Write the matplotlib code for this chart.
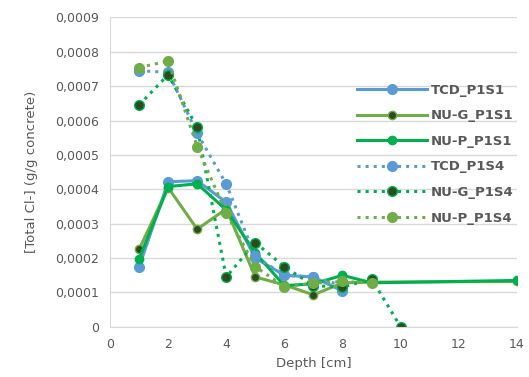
import numpy as np
import matplotlib.pyplot as plt
from matplotlib.ticker import FuncFormatter

# Dane
depth_tcd_s1 = [1, 2, 3, 4, 5, 6, 7, 8]
tcd_s1 = [0.000174, 0.000422, 0.000425, 0.000362, 0.000200, 0.000150, 0.000145, 0.000104]

depth_nug_s1 = [1, 2, 3, 4, 5, 6, 7, 8, 9, 14]
nug_s1 = [0.000225, 0.000405, 0.000284, 0.000343, 0.000145, 0.000122, 0.000093, 0.000128, 0.000130, 0.000132]

depth_nup_s1 = [1, 2, 3, 4, 5, 6, 7, 8, 9, 14]
nup_s1 = [0.000197, 0.000408, 0.000416, 0.000340, 0.000215, 0.000120, 0.000125, 0.000150, 0.000128, 0.000135]

depth_tcd_s4 = [1, 2, 3, 4, 5, 6, 7, 8]
tcd_s4 = [0.000745, 0.000740, 0.000563, 0.000415, 0.000205, 0.000150, 0.000145, 0.000120]

depth_nug_s4 = [1, 2, 3, 4, 5, 6, 7, 8, 9, 10]
nug_s4 = [0.000645, 0.000733, 0.000580, 0.000145, 0.000245, 0.000175, 0.000120, 0.000115, 0.000140, 0.0]

depth_nup_s4 = [1, 2, 3, 4, 5, 6, 7, 8, 9]
nup_s4 = [0.000754, 0.000773, 0.000524, 0.000330, 0.000175, 0.000117, 0.000127, 0.000132, 0.000128]

blue = '#5B9BD5'
olive = '#70AD47'
green = '#00B050'
dark = '#2E4A1F'
grey = '#595959'

fig = plt.figure(figsize=(5.29, 3.77), dpi=100)
ax = fig.add_axes([0.208, 0.133, 0.769, 0.821])

ax.plot(depth_tcd_s1, tcd_s1, '-', color=blue, lw=2.2, marker='o', ms=7,
        mfc=blue, mec=blue, label='TCD_P1S1')
ax.plot(depth_nug_s1, nug_s1, '-', color=olive, lw=2.2, marker='o', ms=6,
        mfc=dark, mec=olive, label='NU-G_P1S1')
ax.plot(depth_nup_s1, nup_s1, '-', color=green, lw=2.2, marker='o', ms=6,
        mfc=green, mec=green, label='NU-P_P1S1')
ax.plot(depth_tcd_s4, tcd_s4, ':', color=blue, lw=2.2, marker='o', ms=7,
        mfc=blue, mec=blue, label='TCD_P1S4')
ax.plot(depth_nug_s4, nug_s4, ':', color=green, lw=2.2, marker='o', ms=7,
        mfc=dark, mec=green, label='NU-G_P1S4')
ax.plot(depth_nup_s4, nup_s4, ':', color=olive, lw=2.2, marker='o', ms=7,
        mfc=olive, mec=olive, label='NU-P_P1S4')

ax.set_xlim(0, 14)
ax.set_ylim(0, 0.0009)
ax.set_xticks(np.arange(0, 15, 2))
ax.set_yticks(np.arange(0, 0.00091, 0.0001))
ax.yaxis.set_major_formatter(FuncFormatter(
    lambda v, p: '0' if abs(v) < 1e-12 else ('%.4f' % v).replace('.', ',')))

ax.grid(axis='y', color='#D9D9D9', lw=1)
ax.set_axisbelow(True)
for s in ['top', 'right']:
    ax.spines[s].set_visible(False)
ax.spines['left'].set_color('#D9D9D9')
ax.spines['bottom'].set_color('#D9D9D9')
ax.tick_params(length=0, colors=grey, labelsize=9, pad=8)

ax.set_xlabel('Depth [cm]', color=grey, fontsize=9.5, labelpad=4)
ax.set_ylabel('[Total Cl-] (g/g concrete)', color=grey, fontsize=9.5, labelpad=12)

leg = ax.legend(loc='upper left', bbox_to_anchor=(0.585, 0.815), frameon=False,
                fontsize=9.5, handlelength=5.3, labelspacing=0.95, handletextpad=0.25,
                borderpad=0.2)
for t in leg.get_texts():
    t.set_color(grey)
    t.set_fontweight('bold')

fig.savefig('out.png', dpi=100)
